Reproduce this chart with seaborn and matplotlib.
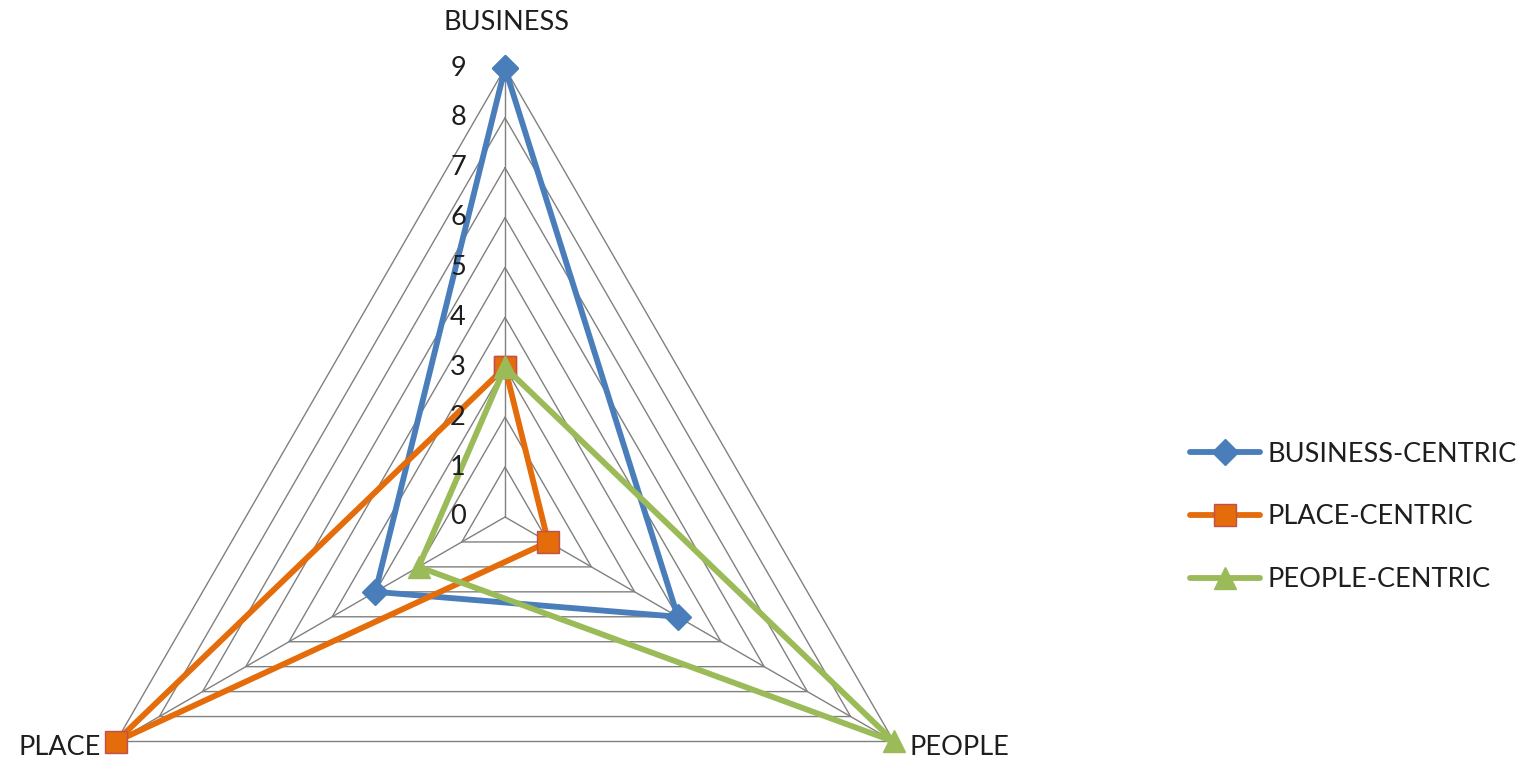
import numpy as np
import pandas as pd
import matplotlib
matplotlib.use("Agg")
import matplotlib.pyplot as plt
import seaborn as sns

# Axes of the radar (clockwise from the top)
categories = ["BUSINESS", "PEOPLE", "PLACE"]
series_names = ["BUSINESS-CENTRIC", "PLACE-CENTRIC", "PEOPLE-CENTRIC"]
business_centric = [9, 4, 3]
place_centric = [3, 1, 9]
people_centric = [3, 9, 2]
radial_ticks = [0, 1, 2, 3, 4, 5, 6, 7, 8, 9]

colors = ["#4A7EBB", "#E46C0A", "#9BBB59"]
edge_colors = ["#4A7EBB", "#C0504D", "#9BBB59"]
markers = ["D", "s", "^"]
marker_sizes = [13.5, 16.5, 15.5]
grid_color = "#808080"
text_color = "#1E1E1E"
FS = 19.5

sns.set_theme(style="white")
plt.rcParams["font.family"] = ["Lato", "DejaVu Sans"]

W, H = 1539, 763
fig = plt.figure(figsize=(W / 100, H / 100), dpi=100)

# polar axes: centre at (505, 517) px from top-left, radius 449 px
cx, cy, R = 505, 517, 449
ax = fig.add_axes([(cx - R) / W, (H - cy - R) / H, 2 * R / W, 2 * R / H],
                  projection="polar")
ax.set_theta_zero_location("N")
ax.set_theta_direction(-1)
ax.set_ylim(0, radial_ticks[-1])
ax.grid(False)
ax.set_xticks([])
ax.set_yticks([])
ax.spines["polar"].set_visible(False)
ax.patch.set_alpha(0)

angles = np.deg2rad([0, 120, 240])
closed_angles = np.append(angles, angles[0])

# triangular gridlines and spokes
for r in radial_ticks[1:]:
    ax.plot(closed_angles, [r] * 4, color=grid_color, lw=1.0, zorder=1,
            clip_on=False)
for a in angles:
    ax.plot([a, a], [0, radial_ticks[-1]], color=grid_color, lw=1.0, zorder=1,
            clip_on=False)

# data series
values = [business_centric, place_centric, people_centric]
handles = []
for name, vals, c, ec, m, ms in zip(series_names, values, colors, edge_colors,
                                     markers, marker_sizes):
    df = pd.DataFrame({"theta": closed_angles,
                       "value": list(vals) + [vals[0]]})
    n_before = len(ax.lines)
    sns.lineplot(data=df, x="theta", y="value", sort=False, estimator=None,
                 color=c, lw=4.2, marker=m, markersize=ms, mec=ec, mew=1.0,
                 mfc=c, legend=False, ax=ax, clip_on=False, zorder=3)
    line = ax.lines[n_before]
    line.set_label(name)
    handles.append(line)
ax.set_xlabel("")
ax.set_ylabel("")

# radial value labels left of the vertical spoke
for v in radial_ticks:
    ax.annotate(str(v), xy=(0, v), xytext=(-47, 0), textcoords="offset pixels",
                ha="center", va="center", fontsize=FS, color=text_color,
                annotation_clip=False)

# category labels
ax.annotate(categories[0], xy=(angles[0], 9), xytext=(2, 46),
            textcoords="offset pixels", ha="center", va="center", fontsize=FS,
            color=text_color, annotation_clip=False)
ax.annotate(categories[1], xy=(angles[1], 9), xytext=(16, -6),
            textcoords="offset pixels", ha="left", va="center", fontsize=FS,
            color=text_color, annotation_clip=False)
ax.annotate(categories[2], xy=(angles[2], 9), xytext=(-15, -6),
            textcoords="offset pixels", ha="right", va="center", fontsize=FS,
            color=text_color, annotation_clip=False)

leg = fig.legend(handles=handles, labels=series_names, loc="center left",
                 bbox_to_anchor=(1190 / W, 1 - 517 / H), frameon=False,
                 fontsize=FS, handlelength=2.6, handletextpad=0.26,
                 labelspacing=1.4, borderpad=0, borderaxespad=0)
for t in leg.get_texts():
    t.set_color(text_color)

fig.savefig("out.png", dpi=100)
